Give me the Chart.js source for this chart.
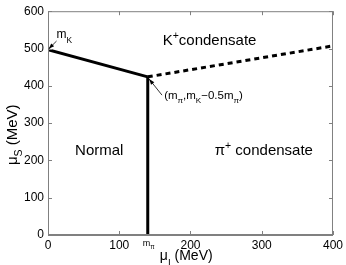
<!DOCTYPE html>
<html>
<head>
<meta charset="utf-8">
<script src="https://cdn.jsdelivr.net/npm/chart.js@4"></script>
<style>
  html, body { margin: 0; padding: 0; background: #fff; }
  #wrap { width: 346px; height: 265px; }
</style>
</head>
<body>
<div id="wrap"><canvas id="myChart" width="346" height="265"></canvas></div>
<script>
// phase boundaries (MeV)
var mPi = 140;
var kaonLine = [{ x: 0, y: 497 }, { x: mPi, y: 424 }];
var pionLine = [{ x: mPi, y: 0 }, { x: mPi, y: 424 }];
var kpLine = [{ x: mPi, y: 424 }, { x: 400, y: 507 }];
var xTicks = [0, 100, 200, 300, 400];
var yTicks = [0, 100, 200, 300, 400, 500, 600];

var FONT = '"Liberation Sans", Arial, sans-serif';

// text with a sub/superscript, parts = [[text, kind], ...]
function richText(ctx, parts, x, y, size) {
    var cx = x;
    for (var i = 0; i < parts.length; i++) {
        var t = parts[i][0], k = parts[i][1];
        var s = k ? size * 0.7 : size;
        var dy = k === 'sub' ? size * 0.35 : (k === 'sup' ? -size * 0.4 : 0);
        ctx.font = s + 'px ' + FONT;
        ctx.fillText(t, cx, y + dy);
        cx += ctx.measureText(t).width;
    }
    return cx - x;
}

function arrow(ctx, x1, y1, x2, y2) {
    ctx.beginPath();
    ctx.moveTo(x1, y1);
    ctx.lineTo(x2, y2);
    ctx.stroke();
    var a = Math.atan2(y2 - y1, x2 - x1);
    ctx.beginPath();
    ctx.moveTo(x2, y2);
    ctx.lineTo(x2 - 6 * Math.cos(a - 0.35), y2 - 6 * Math.sin(a - 0.35));
    ctx.lineTo(x2 - 6 * Math.cos(a + 0.35), y2 - 6 * Math.sin(a + 0.35));
    ctx.closePath();
    ctx.fill();
}

var decor = {
    id: 'decor',
    afterDraw: function (chart) {
        var ctx = chart.ctx, a = chart.chartArea;
        var xs = chart.scales.x, ys = chart.scales.y;
        ctx.save();
        // box
        ctx.strokeStyle = '#808080';
        ctx.lineWidth = 1;
        ctx.strokeRect(a.left + 0.5, a.top + 0.5, a.right - a.left - 1, a.bottom - a.top - 1);
        // inward ticks
        ctx.beginPath();
        xTicks.forEach(function (v) {
            var px = Math.round(xs.getPixelForValue(v)) + 0.5;
            ctx.moveTo(px, a.bottom); ctx.lineTo(px, a.bottom - 4);
            ctx.moveTo(px, a.top); ctx.lineTo(px, a.top + 4);
        });
        yTicks.forEach(function (v) {
            var py = Math.round(ys.getPixelForValue(v)) + 0.5;
            ctx.moveTo(a.left, py); ctx.lineTo(a.left + 4, py);
            ctx.moveTo(a.right, py); ctx.lineTo(a.right - 4, py);
        });
        ctx.stroke();

        ctx.fillStyle = '#000';
        ctx.textBaseline = 'alphabetic';
        ctx.textAlign = 'left';
        // region labels
        richText(ctx, [['K', ''], ['+', 'sup'], ['condensate', '']], xs.getPixelForValue(161), ys.getPixelForValue(510), 15);
        richText(ctx, [['Normal', '']], xs.getPixelForValue(38), ys.getPixelForValue(215), 15);
        richText(ctx, [['\u03c0', ''], ['+', 'sup'], [' condensate', '']], xs.getPixelForValue(234), ys.getPixelForValue(215), 15);

        // point labels with arrows
        ctx.strokeStyle = '#000';
        ctx.lineWidth = 0.8;
        richText(ctx, [['m', ''], ['K', 'sub']], xs.getPixelForValue(12), ys.getPixelForValue(527), 12);
        arrow(ctx, xs.getPixelForValue(12), ys.getPixelForValue(520), xs.getPixelForValue(1), ys.getPixelForValue(499));
        richText(ctx, [['(m', ''], ['\u03c0', 'sub'], [',m', ''], ['K', 'sub'], ['\u22120.5m', ''], ['\u03c0', 'sub'], [')', '']],
            xs.getPixelForValue(163), ys.getPixelForValue(364), 11.5);
        arrow(ctx, xs.getPixelForValue(160), ys.getPixelForValue(375), xs.getPixelForValue(mPi + 2), ys.getPixelForValue(418));

        // m_pi under x axis
        richText(ctx, [['m', ''], ['\u03c0', 'sub']], xs.getPixelForValue(mPi) - 5, a.bottom + 11, 9);

        // axis titles
        richText(ctx, [['\u03bc', ''], ['I', 'sub'], [' (MeV)', '']], xs.getPixelForValue(157), 260, 14);
        ctx.save();
        ctx.translate(17, (a.top + a.bottom) / 2 + 42);
        ctx.rotate(-Math.PI / 2);
        richText(ctx, [['\u03bc', ''], ['S', 'sub'], [' (MeV)', '']], 0, 0, 15);
        ctx.restore();
        ctx.restore();
    }
};

var ctx = document.getElementById('myChart');
var chart = new Chart(ctx, {
    type: 'scatter',
    data: {
        datasets: [
            { data: kaonLine, showLine: true, borderColor: '#000', borderWidth: 3, pointRadius: 0 },
            { data: pionLine, showLine: true, borderColor: '#000', borderWidth: 3, pointRadius: 0 },
            { data: kpLine, showLine: true, borderColor: '#000', borderWidth: 3, borderDash: [5, 4], pointRadius: 0 }
        ]
    },
    plugins: [decor],
    options: {
        responsive: false,
        animation: false,
        events: [],
        layout: { padding: { left: 0, top: 10, right: 13, bottom: 0 } },
        plugins: { legend: { display: false }, tooltip: { enabled: false } },
        scales: {
            x: {
                type: 'linear', min: 0, max: 400,
                afterFit: function (s) { s.height = 30; },
                afterBuildTicks: function (s) { s.ticks = xTicks.map(function (v) { return { value: v }; }); },
                grid: { drawOnChartArea: false, drawTicks: false },
                border: { color: '#808080' },
                ticks: { color: '#000', padding: 3, maxRotation: 0, font: { family: FONT, size: 12 } }
            },
            y: {
                type: 'linear', min: 0, max: 600,
                afterFit: function (s) { s.width = 48; },
                afterBuildTicks: function (s) { s.ticks = yTicks.map(function (v) { return { value: v }; }); },
                grid: { drawOnChartArea: false, drawTicks: false },
                border: { color: '#808080' },
                ticks: { color: '#000', padding: 4, font: { family: FONT, size: 12 } }
            }
        }
    }
});
</script>
</body>
</html>
